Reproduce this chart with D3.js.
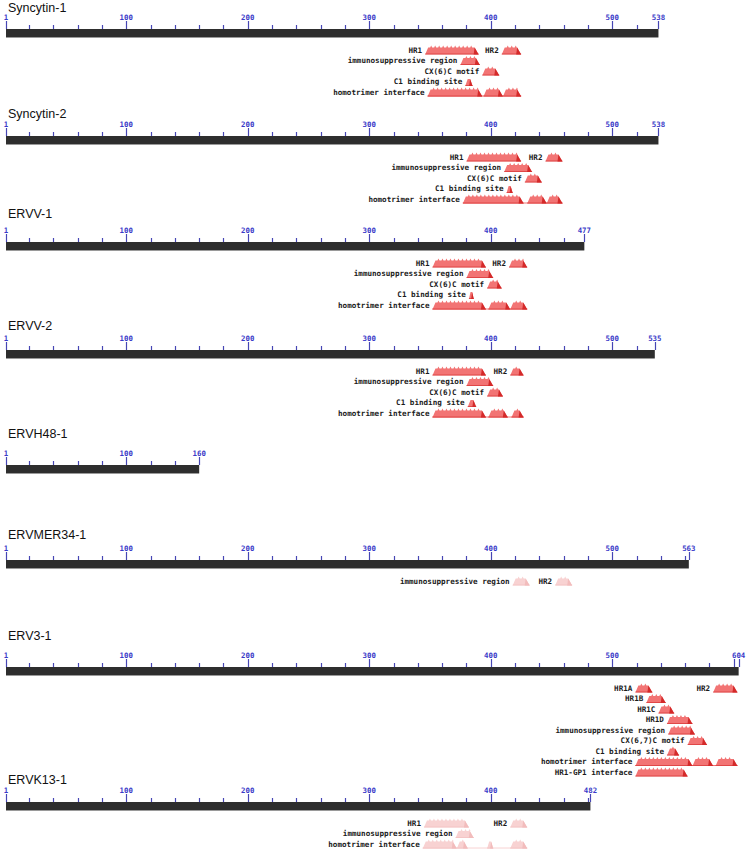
<!DOCTYPE html>
<html>
<head>
<meta charset="utf-8">
<script src="https://cdn.jsdelivr.net/npm/d3@7"></script>
<style>
body { margin: 0; background: #fff; }
.title { font-family: Arial, "Liberation Sans", sans-serif; font-size: 12.5px; fill: #111; }
.rl { font-family: "DejaVu Sans Mono", monospace; font-size: 7.4px; font-weight: bold; fill: #3a3ac8; }
.fl { font-family: "DejaVu Sans Mono", monospace; font-size: 7.6px; font-weight: bold; fill: #1a1a1a; }
</style>
</head>
<body>
<svg id="chart" width="750" height="858"></svg>
<script>

var proteins = ["Syncytin-1", "Syncytin-2", "ERVV-1", "ERVV-2", "ERVH48-1", "ERVMER34-1", "ERV3-1", "ERVK13-1"];
var lengths = [538, 538, 477, 535, 160, 563, 604, 482];
// faint (low scoring) hits drawn in pale pink
var faint = [false, false, false, false, false, true, false, true];

// feature rows: each row holds one or more features, each feature a list of [start, end] segments
var syncytin1Rows = [
    [{name: "HR1", segs: [[346, 390]]}, {name: "HR2", segs: [[409, 425]]}],
    [{name: "immunosuppressive region", segs: [[375, 391]]}],
    [{name: "CX(6)C motif", segs: [[393, 407]]}],
    [{name: "C1 binding site", segs: [[379, 385]]}],
    [{name: "homotrimer interface", segs: [[348, 393], [394, 410], [410, 425]]}]
];
var syncytin2Rows = [
    [{name: "HR1", segs: [[380, 425]]}, {name: "HR2", segs: [[445, 459]]}],
    [{name: "immunosuppressive region", segs: [[411, 434]]}],
    [{name: "CX(6)C motif", segs: [[428, 442]]}],
    [{name: "C1 binding site", segs: [[413, 418]]}],
    [{name: "homotrimer interface", segs: [[377, 427], [430, 446], [446, 459]]}]
];
var ervv1Rows = [
    [{name: "HR1", segs: [[352, 396]]}, {name: "HR2", segs: [[415, 430]]}],
    [{name: "immunosuppressive region", segs: [[380, 402]]}],
    [{name: "CX(6)C motif", segs: [[397, 409]]}],
    [{name: "C1 binding site", segs: [[382, 386]]}],
    [{name: "homotrimer interface", segs: [[352, 396], [398, 416], [416, 430]]}]
];
var ervv2Rows = [
    [{name: "HR1", segs: [[352, 396]]}, {name: "HR2", segs: [[416, 427]]}],
    [{name: "immunosuppressive region", segs: [[380, 402]]}],
    [{name: "CX(6)C motif", segs: [[397, 410]]}],
    [{name: "C1 binding site", segs: [[381, 388]]}],
    [{name: "homotrimer interface", segs: [[352, 396], [398, 414], [417, 427]]}]
];
var ervh48Rows = [];
var ervmer34Rows = [
    [{name: "immunosuppressive region", segs: [[418, 432]]}, {name: "HR2", segs: [[453, 467]]}]
];
var erv3Rows = [
    [{name: "HR1A", segs: [[519, 533]]}, {name: "HR2", segs: [[583, 603]]}],
    [{name: "HR1B", segs: [[528, 544]]}],
    [{name: "HR1C", segs: [[538, 551]]}],
    [{name: "HR1D", segs: [[545, 566]]}],
    [{name: "immunosuppressive region", segs: [[546, 568]]}],
    [{name: "CX(6,7)C motif", segs: [[562, 578]]}],
    [{name: "C1 binding site", segs: [[545, 555]]}],
    [{name: "homotrimer interface", segs: [[519, 566], [566, 583], [585, 603]]}],
    [{name: "HR1-GP1 interface", segs: [[519, 562]]}]
];
var ervk13Rows = [
    [{name: "HR1", segs: [[345, 382]]}, {name: "HR2", segs: [[416, 430]]}],
    [{name: "immunosuppressive region", segs: [[371, 386]]}],
    [{name: "homotrimer interface", segs: [[344, 372], [372, 381], [397, 402], [416, 430]]}]
];
var featureRows = [syncytin1Rows, syncytin2Rows, ervv1Rows, ervv2Rows, ervh48Rows, ervmer34Rows, erv3Rows, ervk13Rows];

// layout of each panel (title centre and top of the black bar)
var titleY = [7, 113, 213, 325, 433, 534, 635, 779];
var barTop = [29, 136, 242, 350, 465, 560, 667, 802];

var svg = d3.select("#chart");

var x = d3.scaleLinear()
    .domain([1, 604])
    .range([6, 6 + 603 * 1.215]);

var barH = 8, rowGap = 10.5, featH = 9;

proteins.forEach(function (name, i) {
    drawPanel(i);
});

function drawPanel(i) {
    var g = svg.append("g");
    var len = lengths[i];
    var top = barTop[i];

    g.append("text")
        .attr("class", "title")
        .attr("x", 8)
        .attr("y", titleY[i] + 4.5)
        .text(proteins[i]);

    // black sequence bar
    g.append("rect")
        .attr("x", x(1))
        .attr("y", top)
        .attr("width", x(len) - x(1))
        .attr("height", barH)
        .attr("fill", "#2e2e2e");
    g.append("line")
        .attr("x1", x(1)).attr("x2", x(len))
        .attr("y1", top + barH + 0.5).attr("y2", top + barH + 0.5)
        .attr("stroke", "#9a9a9a");

    // ruler ticks every 20 residues
    var ticks = d3.range(20, len, 20);
    ticks.unshift(1);
    ticks.push(len);
    g.selectAll("line.tick")
        .data(ticks)
        .enter().append("line")
        .attr("class", "tick")
        .attr("x1", function (d) { return Math.round(x(d)) + 0.5; })
        .attr("x2", function (d) { return Math.round(x(d)) + 0.5; })
        .attr("y1", function (d) { return isMajor(d, len) ? top - 8 : top - 4; })
        .attr("y2", top)
        .attr("stroke", "#4646b4")
        .attr("stroke-width", 1.2);

    var labels = ticks.filter(function (d) {
        return d == 1 || d == len || (d % 100 == 0 && len - d > 20);
    });
    g.selectAll("text.rl")
        .data(labels)
        .enter().append("text")
        .attr("class", "rl")
        .attr("x", function (d) { return x(d); })
        .attr("y", top - 9)
        .attr("text-anchor", "middle")
        .text(function (d) { return d; });

    // conserved features
    var rows = featureRows[i];
    rows.forEach(function (row, r) {
        var cy = top + barH + 13 + r * rowGap;
        row.forEach(function (f) {
            drawFeature(g, f, cy, faint[i]);
        });
    });
}

function isMajor(d, len) {
    return d == 1 || d == len || d % 100 == 0;
}

function drawFeature(g, f, cy, pale) {
    var body = pale ? "#f8d2d2" : "#f27474";
    var dark = pale ? "#f2bcbc" : "#d42a2a";
    var yb = cy + featH / 2, yt = cy - featH / 2 + 2;
    var first = f.segs[0][0], last = f.segs[f.segs.length - 1][1];

    g.append("text")
        .attr("class", "fl")
        .attr("x", x(first) - 3)
        .attr("y", cy + 2.5)
        .attr("text-anchor", "end")
        .text(f.name);

    if (f.segs.length > 1) {
        g.append("line")
            .attr("x1", x(first)).attr("x2", x(last))
            .attr("y1", yb - 0.5).attr("y2", yb - 0.5)
            .attr("stroke", body);
    }

    f.segs.forEach(function (s) {
        var x0 = x(s[0]), x1 = x(s[1]);
        var w = x1 - x0;
        var sl = Math.min(3, w / 3), sr = Math.min(4, w / 3);
        // body with toothed top
        var p = "M" + x0 + "," + yb + "L" + (x0 + sl) + "," + yt;
        for (var t = x0 + sl + 2; t < x1 - sr - 1; t += 4) {
            p += "L" + t + "," + yt + "L" + (t + 1) + "," + (yt - 2) + "L" + (t + 2) + "," + yt;
        }
        p += "L" + (x1 - sr) + "," + yt + "L" + x1 + "," + yb + "Z";
        g.append("path").attr("d", p).attr("fill", body);
        // darker right end
        g.append("path")
            .attr("d", "M" + (x1 - sr) + "," + yt + "L" + x1 + "," + yb + "L" + (x1 - sr - 1) + "," + yb + "Z")
            .attr("fill", dark);
        g.append("line")
            .attr("x1", x0).attr("x2", x1)
            .attr("y1", yb - 0.5).attr("y2", yb - 0.5)
            .attr("stroke", dark).attr("stroke-opacity", 0.6);
    });
}

</script>
</body>
</html>
